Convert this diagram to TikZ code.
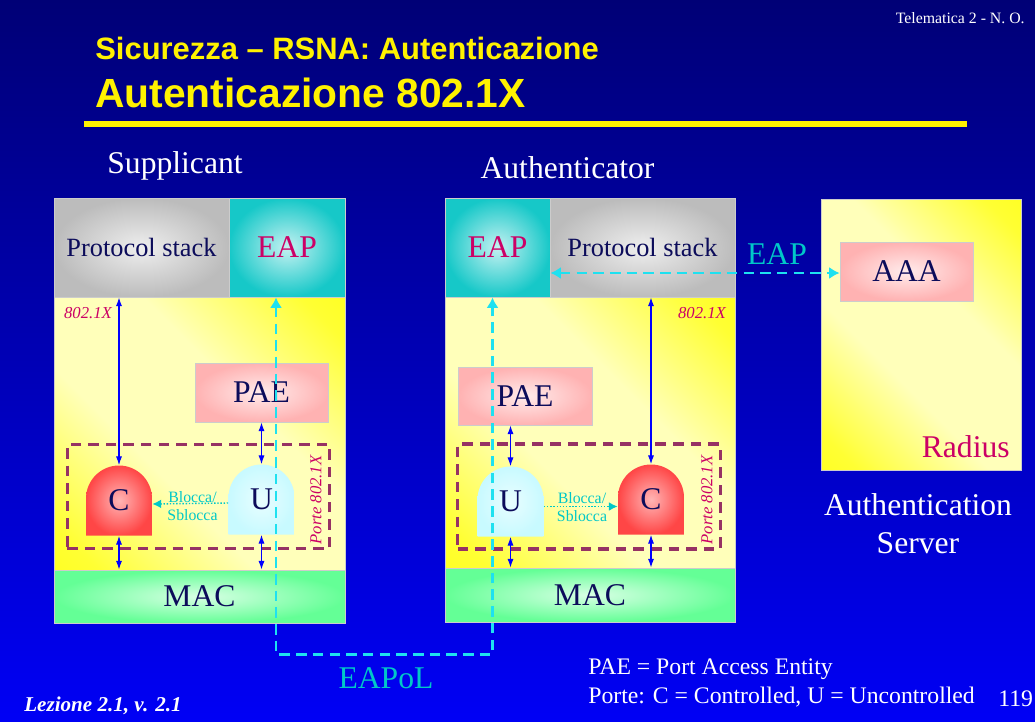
\documentclass[tikz,border=0pt]{standalone}
\usepackage{fontspec}
\setmainfont{Liberation Serif}
\newfontfamily\titlefont{Liberation Sans}
\usetikzlibrary{arrows.meta}

\definecolor{slidetop}{RGB}{0,0,118}
\definecolor{slidebot}{RGB}{0,0,245}
\definecolor{inknavy}{RGB}{12,12,90}
\definecolor{inkmag}{RGB}{204,0,102}
\definecolor{eapcyan}{RGB}{0,200,200}
\definecolor{linkcyan}{RGB}{30,225,240}
\definecolor{portpurple}{RGB}{150,50,100}
\definecolor{stackgray}{RGB}{188,188,188}
\definecolor{eapteal}{RGB}{22,200,200}
\definecolor{paepink}{RGB}{255,178,178}
\definecolor{macgreen}{RGB}{100,255,150}
\definecolor{ctrlred}{RGB}{255,70,70}
\definecolor{uncyan}{RGB}{200,250,255}
\pgfdeclarehorizontalshading{yellowband}{100bp}{color(0bp)=(yellow); color(20bp)=(yellow!80); color(40bp)=(yellow!27); color(60bp)=(yellow!27); color(80bp)=(yellow!80); color(100bp)=(yellow)}

\tikzset{
  block/.style={draw=white!80!black, line width=0.5pt, inner sep=0pt, text=inknavy,
    font=\fontsize{18}{20}\selectfont},
  glow/.style={block, inner color=#1!25!white, outer color=#1},
  layerbody/.style={block, shade, shading=yellowband, shading angle=45},
  dome/.style={inner sep=0pt, minimum width=1.32cm, minimum height=1.4cm, text=inknavy,
    font=\fontsize{18}{20}\selectfont,
    path picture={\shade[inner color=#1!40!white, outer color=#1]
      (path picture bounding box.south west) -- ([yshift=-0.66cm]path picture bounding box.north west)
      arc[start angle=180, end angle=0, radius=0.66cm] -- (path picture bounding box.south east) -- cycle;}},
  portbox/.style={draw=portpurple, line width=1.8pt, dash pattern=on 6pt off 4pt,
    minimum width=5.25cm, minimum height=2.08cm},
  link/.style={blue, line width=0.6pt, {Latex[length=5pt,width=3.5pt]}-{Latex[length=5pt,width=3.5pt]}},
  eapol/.style={linkcyan, line width=1.7pt, dash pattern=on 6pt off 3.5pt,
    {Latex[length=6pt,width=7pt]}-{Latex[length=6pt,width=7pt]}},
  toggle/.style={eapcyan, densely dotted, line width=0.8pt, -{Latex[length=5pt,width=5pt]}},
  tag/.style={font=\fontsize{9.5}{10}\selectfont\itshape, text=inkmag},
  blocktxt/.style={font=\fontsize{9}{10.5}\selectfont, text=eapcyan, align=center},
  heading/.style={text=white, font=\fontsize{18}{21.5}\selectfont, align=center},
  note/.style={text=white, font=\fontsize{13.5}{15}\selectfont, anchor=west, inner sep=0pt},
}

\begin{document}
\begin{tikzpicture}[x=0.02cm, y=-0.02cm]
  % Slide background
  \useasboundingbox (0,0) rectangle (1035,721);
  \shade[top color=slidetop, bottom color=slidebot] (0,0) rectangle (1035,721);
  \node[anchor=east, inner sep=0pt, text=white, font=\fontsize{9}{10}\selectfont] (course) at (1025,18) {Telematica 2 - N. O.};
  \node[anchor=west, inner sep=0pt, text=yellow, font=\titlefont\bfseries\fontsize{17.6}{20}\selectfont] (title) at (95,48) {Sicurezza – RSNA: Autenticazione};
  \node[anchor=west, inner sep=0pt, text=yellow, font=\titlefont\bfseries\fontsize{23.2}{26}\selectfont] (subtitle) at (95,93) {Autenticazione 802.1X};
  \fill[yellow] (84,121) rectangle (967,127);

  % Supplicant
  \node[heading] (suplabel) at (175,166) {Supplicant};
  \node[layerbody, minimum width=5.82cm, minimum height=5.46cm] (supbody) at (199.5,433.5) {};
  \node[glow=stackgray, minimum width=3.5cm, minimum height=1.98cm, font=\fontsize{15}{17}\selectfont] (supstack) at (141.5,247.5) {Protocol stack};
  \node[glow=eapteal, minimum width=2.32cm, minimum height=1.98cm, text=inkmag] (supeap) at (287,247.5) {EAP};
  \node[glow=macgreen, minimum width=5.82cm, minimum height=1.06cm] (supmac) at (199.5,596.5) {MAC};
  \node[glow=paepink, minimum width=2.66cm, minimum height=1.18cm] (suppae) at (261.5,392.5) {PAE};
  \node[portbox] (support) at (198.5,496.5) {};
  \node[dome=ctrlred] (supc) at (119,500.5) {C};
  \node[dome=uncyan] (supu) at (261.5,499.5) {U};
  \node[tag] (supstd) at (88,313) {802.1X};
  \node[tag, rotate=90] (supporte) at (316,500) {Porte 802.1X};
  \node[blocktxt] (supblk) at (192.5,506) {Blocca/\\Sblocca};
  \draw[link] (supc.north) -- (supc.north |- supstack.south);
  \draw[link] (suppae.south) -- (suppae.south |- supu.north);
  \draw[link] (supc.south) -- (supc.south |- supmac.north);
  \draw[link] (supu.south) -- (supu.south |- supmac.north);
  \draw[toggle] ([yshift=-0.07cm]supu.west) -- ([yshift=-0.07cm]supc.east);

  % Authenticator
  \node[heading] (autlabel) at (567.5,168) {Authenticator};
  \node[layerbody, minimum width=5.8cm, minimum height=5.42cm] (autbody) at (590,432.5) {};
  \node[glow=eapteal, minimum width=2.1cm, minimum height=1.98cm, text=inkmag] (auteap) at (497.5,247.5) {EAP};
  \node[glow=stackgray, minimum width=3.7cm, minimum height=1.98cm, font=\fontsize{15}{17}\selectfont] (autstack) at (642.5,247.5) {Protocol stack};
  \node[glow=macgreen, minimum width=5.8cm, minimum height=1.08cm] (autmac) at (590,595) {MAC};
  \node[glow=paepink, minimum width=2.68cm, minimum height=1.16cm] (autpae) at (525,396) {PAE};
  \node[portbox, minimum height=2.1cm] (autport) at (589,496.5) {};
  \node[dome=uncyan] (autu) at (510.5,501.5) {U};
  \node[dome=ctrlred] (autc) at (651,499.5) {C};
  \node[tag] (autstd) at (702,313) {802.1X};
  \node[tag, rotate=90] (autporte) at (707,500) {Porte 802.1X};
  \node[blocktxt] (autblk) at (582,507) {Blocca/\\Sblocca};
  \draw[link] (autc.north) -- (autc.north |- autstack.south);
  \draw[link] (autu.north) -- (autu.north |- autpae.south);
  \draw[link] (autu.south) -- (autu.south |- autmac.north);
  \draw[link] (autc.south) -- (autc.south |- autmac.north);
  \draw[toggle] ([yshift=-0.1cm]autu.east) -- ([yshift=-0.1cm]autu.east -| autc.west);

  % Authentication Server
  \node[layerbody, minimum width=4cm, minimum height=5.42cm] (server) at (921,334.5) {};
  \node[glow=paepink, minimum width=2.66cm, minimum height=1.18cm] (aaa) at (906.5,271.5) {AAA};
  \node[anchor=east, inner sep=0pt, text=inkmag, font=\fontsize{18}{20}\selectfont] (radius) at (1010,447) {Radius};
  \node[heading] (srvlabel) at (918,524) {Authentication\\Server};

  % EAP / EAPoL exchanges
  \draw[eapol] ([yshift=-0.51cm]auteap.east) -- ([yshift=-0.51cm]auteap.east -| aaa.west);
  \node[text=eapcyan, font=\fontsize{18}{20}\selectfont] (eaplabel) at (777,254) {EAP};
  \coordinate (eapol) at (384,654);
  \draw[eapol] ([xshift=-0.22cm]supeap.south) |- (eapol) -| ([xshift=-0.1cm]auteap.south);
  \node[text=eapcyan, font=\fontsize{18}{20}\selectfont] (eapollabel) at (386,678) {EAPoL};

  % Footer
  \node[note] (legend1) at (588,669) {PAE = Port Access Entity};
  \node[note] (legend2) at (588,697) {Porte: C = Controlled, U = Uncontrolled};
  \node[note] (page) at (998,699) {119};
  \node[note, font=\fontsize{12}{14}\selectfont\bfseries\itshape] (lesson) at (24,706) {Lezione 2.1, v. 2.1};
\end{tikzpicture}
\end{document}
